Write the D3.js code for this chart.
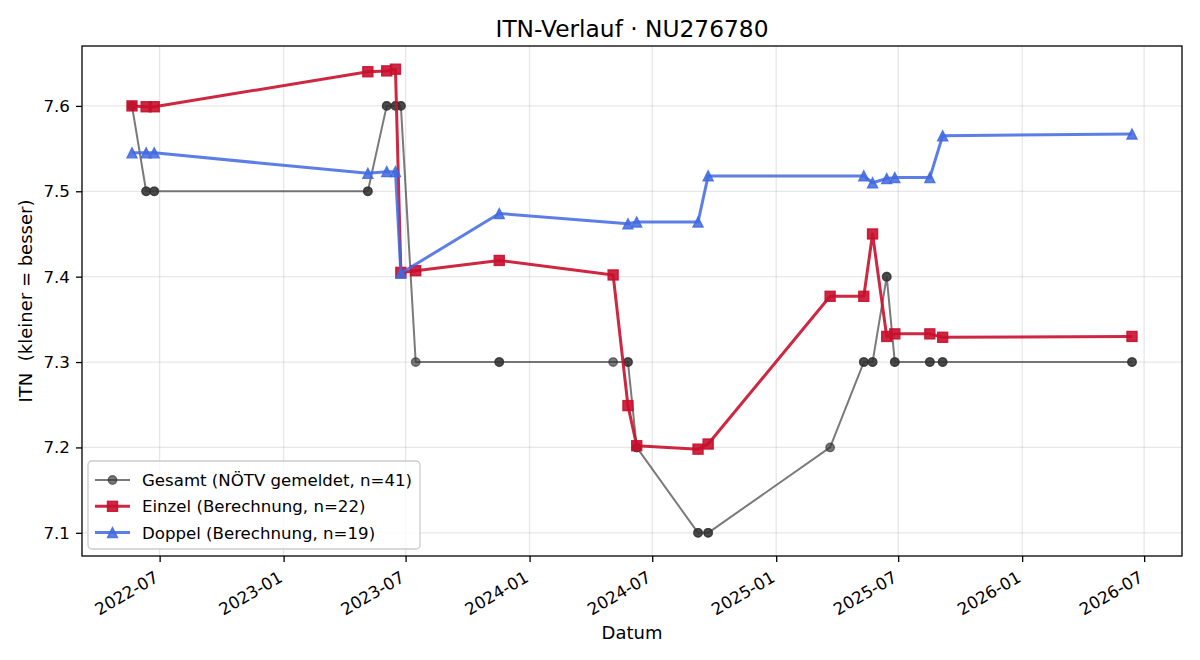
<!DOCTYPE html>
<html>
<head>
<meta charset="utf-8">
<script src="https://cdn.jsdelivr.net/npm/d3@7"></script>
<style>
  body { margin: 0; background: #fff; }
  svg { display: block; font-family: 'DejaVu Sans', sans-serif; }
</style>
</head>
<body>
<div id="frame"></div>
<script>
const width = 1200
const height = 660
const margin = { top: 46, right: 18, bottom: 104, left: 82 }
const fontFamily = "'DejaVu Sans', sans-serif"

// match days (one entry per day with a match)
const matchDates = [
  '2022-05-21', '2022-06-11', '2022-06-23', '2023-05-06', '2023-06-03', '2023-06-16',
  '2023-06-24', '2023-07-16', '2023-11-17', '2024-05-04', '2024-05-26', '2024-06-08',
  '2024-09-07', '2024-09-22', '2025-03-22', '2025-05-11', '2025-05-24', '2025-06-14',
  '2025-06-26', '2025-08-17', '2025-09-05', '2026-06-13'
]
// reported ITN (NÖTV) on each match day
const gesamtValues = [
  7.6, 7.5, 7.5, 7.5, 7.6, 7.6, 7.6, 7.3, 7.3, 7.3, 7.3,
  7.2, 7.1, 7.1, 7.2, 7.3, 7.3, 7.4, 7.3, 7.3, 7.3, 7.3
]
// singles calculation, one per match day
const einzelValues = [
  7.600, 7.599, 7.599, 7.640, 7.641, 7.643, 7.405, 7.407, 7.419, 7.402, 7.249,
  7.202, 7.198, 7.204, 7.377, 7.377, 7.450, 7.330, 7.333, 7.333, 7.329, 7.330
]
// doubles calculation
const doppelDates = [
  '2022-05-21', '2022-06-11', '2022-06-23', '2023-05-06', '2023-06-03', '2023-06-16',
  '2023-06-24', '2023-11-17', '2024-05-26', '2024-06-08', '2024-09-07', '2024-09-22',
  '2025-05-11', '2025-05-24', '2025-06-14', '2025-06-26', '2025-08-17', '2025-09-05',
  '2026-06-13'
]
const doppelValues = [
  7.545, 7.545, 7.545, 7.521, 7.523, 7.523, 7.404, 7.474, 7.462, 7.464,
  7.464, 7.518, 7.518, 7.510, 7.515, 7.516, 7.516, 7.565, 7.567
]
const yTicks = [7.1, 7.2, 7.3, 7.4, 7.5, 7.6]

const parse = d3.timeParse('%Y-%m-%d')

const einzel = matchDates.map((d, i) => ({ date: parse(d), value: einzelValues[i] }))
const doppel = doppelDates.map((d, i) => ({ date: parse(d), value: doppelValues[i] }))
const gesamtByDate = new Map(matchDates.map((d, i) => [d, gesamtValues[i]]))
// every single and double match carries the reported ITN of its day
const gesamt = matchDates.concat(doppelDates)
  .map(d => ({ date: parse(d), value: gesamtByDate.get(d) }))
  .sort((a, b) => a.date - b.date)

const style = {
  gesamt: { color: '#333333', alpha: 0.65, lw: 2, marker: 'circle', size: 4.2 },
  einzel: { color: '#c8102e', alpha: 0.9, lw: 3, marker: 'square', size: 5 },
  doppel: { color: '#4169e1', alpha: 0.85, lw: 3, marker: 'triangle', size: 5 }
}

const series = [
  { key: 'gesamt', label: `Gesamt (NÖTV gemeldet, n=${gesamt.length})`, data: gesamt },
  { key: 'einzel', label: `Einzel (Berechnung, n=${einzel.length})`, data: einzel },
  { key: 'doppel', label: `Doppel (Berechnung, n=${doppel.length})`, data: doppel }
]

const plotW = width - margin.left - margin.right
const plotH = height - margin.top - margin.bottom

function padded(extent, frac) {
  const span = extent[1] - extent[0]
  return [extent[0] - span * frac, extent[1] + span * frac]
}

const allPoints = series.flatMap(s => s.data)
const xExt = padded(d3.extent(allPoints, d => +d.date), 0.05)
const yExt = padded(d3.extent(allPoints, d => d.value), 0.05)

const x = d3.scaleTime()
  .domain([new Date(xExt[0]), new Date(xExt[1])])
  .range([margin.left, margin.left + plotW])
const y = d3.scaleLinear()
  .domain(yExt)
  .range([margin.top + plotH, margin.top])

const svg = d3.select('#frame')
  .append('svg')
  .attr('width', width)
  .attr('height', height)

// grid
const xTicks = x.ticks(d3.timeMonth.every(6))
svg.append('g')
  .selectAll('line')
  .data(xTicks)
  .join('line')
  .attr('x1', d => x(d)).attr('x2', d => x(d))
  .attr('y1', margin.top).attr('y2', margin.top + plotH)
  .attr('stroke', '#b0b0b0').attr('stroke-opacity', 0.3).attr('stroke-width', 1.3)
svg.append('g')
  .selectAll('line')
  .data(yTicks)
  .join('line')
  .attr('x1', margin.left).attr('x2', margin.left + plotW)
  .attr('y1', d => y(d)).attr('y2', d => y(d))
  .attr('stroke', '#b0b0b0').attr('stroke-opacity', 0.3).attr('stroke-width', 1.3)

// axes
const xAxis = svg.append('g')
  .attr('transform', `translate(0,${margin.top + plotH})`)
  .call(d3.axisBottom(x).tickValues(xTicks).tickFormat(d3.timeFormat('%Y-%m')).tickSize(6).tickSizeOuter(0))
  .attr('font-family', fontFamily)
xAxis.select('.domain').remove()
xAxis.selectAll('line').attr('stroke', '#000').attr('stroke-width', 1.3)
xAxis.selectAll('text')
  .attr('font-size', '16.7px')
  .attr('fill', '#000')
  .attr('text-anchor', 'end')
  .attr('y', 0)
  .attr('dy', '0.78em')
  .attr('transform', 'translate(-7,13.5) rotate(-30)')

const yAxis = svg.append('g')
  .attr('transform', `translate(${margin.left},0)`)
  .call(d3.axisLeft(y).tickValues(yTicks).tickFormat(d3.format('.1f')).tickSize(6).tickPadding(6).tickSizeOuter(0))
  .attr('font-family', fontFamily)
yAxis.select('.domain').remove()
yAxis.selectAll('line').attr('stroke', '#000').attr('stroke-width', 1.3)
yAxis.selectAll('text').attr('font-size', '16.7px').attr('fill', '#000')

svg.append('rect')
  .attr('x', margin.left).attr('y', margin.top)
  .attr('width', plotW).attr('height', plotH)
  .attr('fill', 'none').attr('stroke', '#000').attr('stroke-width', 1.3)

function drawMarker(sel, st, cx, cy) {
  const s = st.size
  let m
  if (st.marker === 'circle') {
    m = sel.append('circle').attr('cx', cx).attr('cy', cy).attr('r', s)
  } else if (st.marker === 'square') {
    m = sel.append('rect').attr('x', cx - s).attr('y', cy - s).attr('width', 2 * s).attr('height', 2 * s)
  } else {
    m = sel.append('path').attr('d', `M${cx},${cy - s}L${cx - s},${cy + s}L${cx + s},${cy + s}Z`)
  }
  return m
    .attr('fill', st.color).attr('fill-opacity', st.alpha)
    .attr('stroke', st.color).attr('stroke-opacity', st.alpha)
    .attr('stroke-width', 1.4).attr('stroke-linejoin', 'miter')
}

const line = d3.line().x(d => x(d.date)).y(d => y(d.value))

series.forEach(s => {
  const st = style[s.key]
  const g = svg.append('g')
  g.append('path')
    .datum(s.data)
    .attr('d', line)
    .attr('fill', 'none')
    .attr('stroke', st.color)
    .attr('stroke-opacity', st.alpha)
    .attr('stroke-width', st.lw)
    .attr('stroke-linejoin', 'round')
  s.data.forEach(d => drawMarker(g, st, x(d.date), y(d.value)))
})

// legend
const legend = svg.append('g')
legend.append('rect')
  .attr('x', 88).attr('y', 461)
  .attr('width', 332).attr('height', 88)
  .attr('rx', 4)
  .attr('fill', '#fff').attr('fill-opacity', 0.8)
  .attr('stroke', '#cccccc').attr('stroke-width', 1.3)
series.forEach((s, i) => {
  const st = style[s.key]
  const ly = 480 + i * 26.3
  legend.append('line')
    .attr('x1', 95).attr('x2', 130).attr('y1', ly).attr('y2', ly)
    .attr('stroke', st.color).attr('stroke-opacity', st.alpha).attr('stroke-width', st.lw)
  drawMarker(legend, st, 112.5, ly)
  legend.append('text')
    .attr('x', 142).attr('y', ly).attr('dy', '0.36em')
    .attr('font-size', '16.6px').attr('fill', '#000')
    .text(s.label)
})

// titles
svg.append('text')
  .attr('x', margin.left + plotW / 2).attr('y', 37)
  .attr('text-anchor', 'middle').attr('font-size', '23.3px').attr('fill', '#000')
  .text('ITN-Verlauf · NU276780')
svg.append('text')
  .attr('x', margin.left + plotW / 2).attr('y', 639)
  .attr('text-anchor', 'middle').attr('font-size', '18px').attr('fill', '#000')
  .text('Datum')
svg.append('text')
  .attr('transform', `translate(32,${margin.top + plotH / 2}) rotate(-90)`)
  .attr('text-anchor', 'middle').attr('font-size', '18px').attr('fill', '#000')
  .attr('xml:space', 'preserve')
  .style('white-space', 'pre')
  .text('ITN  (kleiner = besser)')
</script>
</body>
</html>
